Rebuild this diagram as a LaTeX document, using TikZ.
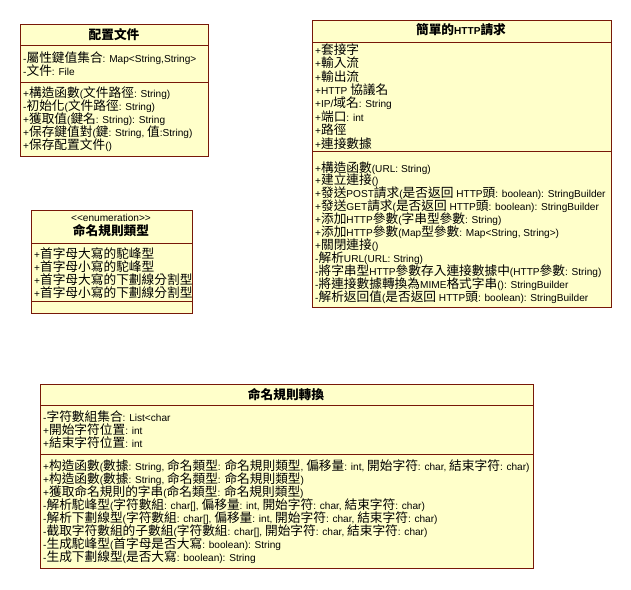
\documentclass[tikz,border=0pt]{standalone}
\usepackage{fontspec}
\setmainfont{Liberation Sans}[Ligatures=TeXOff]
\newfontfamily\latinfont{Liberation Sans}[Ligatures=TeXOff]
\newfontfamily\cjkfont{Noto Sans CJK TC}[Scale=1.257, Ligatures=TeXOff]
\definecolor{umlline}{RGB}{120,24,8}
\definecolor{umlfill}{RGB}{255,255,202}

% Han characters go to the CJK family, the rest stays in Liberation Sans
\XeTeXinterchartokenstate=1
\newXeTeXintercharclass\hancls
\newcount\hancount
\hancount="4E00
\loop
  \XeTeXcharclass\hancount=\hancls
  \ifnum\hancount<"9FFF \advance\hancount by 1
\repeat
\XeTeXinterchartoks 0 \hancls = {\cjkfont}
\XeTeXinterchartoks 4095 \hancls = {\cjkfont}
\XeTeXinterchartoks \hancls 0 = {\latinfont}
\XeTeXinterchartoks \hancls 4095 = {\latinfont}

\begin{document}
\begin{tikzpicture}[
  x=1pt, y=-1pt,
  every node/.style={inner sep=0pt},
  classbox/.style={rectangle, draw=umlline, fill=umlfill, line width=1pt, anchor=north west},
  sep/.style={draw=umlline, line width=1pt},
  cname/.style={font=\fontsize{10.1}{13}\selectfont\bfseries},
  stereo/.style={font=\fontsize{10.1}{13}\selectfont},
  member/.style={font=\fontsize{10.1}{13}\selectfont, align=left, anchor=base west}]

  \useasboundingbox (0,0) rectangle (631,589);

  % class boxes
  \node[classbox, minimum width=188pt, minimum height=132pt] (cfg)  at (20,24)  {};
  \node[classbox, minimum width=299pt, minimum height=287pt] (http) at (312,20) {};
  \node[classbox, minimum width=161pt, minimum height=103pt] (enum) at (31,210) {};
  \node[classbox, minimum width=493pt, minimum height=184pt] (conv) at (40,384) {};

  % compartment lines
  \draw[sep] (cfg.west |- 0,45)   -- (cfg.east |- 0,45);
  \draw[sep] (cfg.west |- 0,82)   -- (cfg.east |- 0,82);
  \draw[sep] (http.west |- 0,42)  -- (http.east |- 0,42);
  \draw[sep] (http.west |- 0,151) -- (http.east |- 0,151);
  \draw[sep] (enum.west |- 0,243) -- (enum.east |- 0,243);
  \draw[sep] (enum.west |- 0,301) -- (enum.east |- 0,301);
  \draw[sep] (conv.west |- 0,405) -- (conv.east |- 0,405);
  \draw[sep] (conv.west |- 0,454) -- (conv.east |- 0,454);

  % names (members are placed by the baseline of their last line)
  \node[cname]  (cfgname)  at (114,35)  {配置文件};
  \node[cname]  (httpname) at (461,30)  {簡單的HTTP請求};
  \node[stereo] (enumst)   at (111,218) {<<enumeration>>};
  \node[cname]  (enumname) at (111,231) {命名規則類型};
  \node[cname]  (convname) at (286,395) {命名規則轉換};

  % members
  \node[member] (cfgattr) at (23,75) {-屬性鍵值集合: Map<String,String>\\-文件: File};
  \node[member] (cfgops)  at (23,149) {+構造函數(文件路徑: String)\\-初始化(文件路徑: String)\\
    +獲取值(鍵名: String): String\\+保存鍵值對(鍵: String, 值:String)\\+保存配置文件()};

  \node[member, font=\fontsize{10.1}{13.4}\selectfont] (httpattr) at (315,148) {+套接字\\+輸入流\\+輸出流\\
    +HTTP 協議名\\+IP/域名: String\\+端口: int\\+路徑\\+連接數據};
  \node[member, font=\fontsize{10.1}{12.9}\selectfont] (httpops) at (315,301) {+構造函數(URL: String)\\
    +建立連接()\\
    +發送POST請求(是否返回 HTTP頭: boolean): StringBuilder\\
    +發送GET請求(是否返回 HTTP頭: boolean): StringBuilder\\
    +添加HTTP參數(字串型參數: String)\\
    +添加HTTP參數(Map型參數: Map<String, String>)\\
    +關閉連接()\\-解析URL(URL: String)\\
    -將字串型HTTP參數存入連接數據中(HTTP參數: String)\\
    -將連接數據轉換為MIME格式字串(): StringBuilder\\
    -解析返回值(是否返回 HTTP頭: boolean): StringBuilder};

  \node[member] (enumlit) at (34,297) {+首字母大寫的駝峰型\\+首字母小寫的駝峰型\\
    +首字母大寫的下劃線分割型\\+首字母小寫的下劃線分割型};

  \node[member] (convattr) at (43,447) {-字符數組集合: List<char\\+開始字符位置: int\\+結束字符位置: int};
  \node[member] (convops)  at (43,561) {%
    +构造函數(數據: String, 命名類型: 命名規則類型, 偏移量: int, 開始字符: char, 結束字符: char)\\
    +构造函數(數據: String, 命名類型: 命名規則類型)\\
    +獲取命名規則的字串(命名類型: 命名規則類型)\\
    -解析駝峰型(字符數組: char[], 偏移量: int, 開始字符: char, 結束字符: char)\\
    -解析下劃線型(字符數組: char[], 偏移量: int, 開始字符: char, 結束字符: char)\\
    -截取字符數組的子數組(字符數組: char[], 開始字符: char, 結束字符: char)\\
    -生成駝峰型(首字母是否大寫: boolean): String\\
    -生成下劃線型(是否大寫: boolean): String};
\end{tikzpicture}
\end{document}
